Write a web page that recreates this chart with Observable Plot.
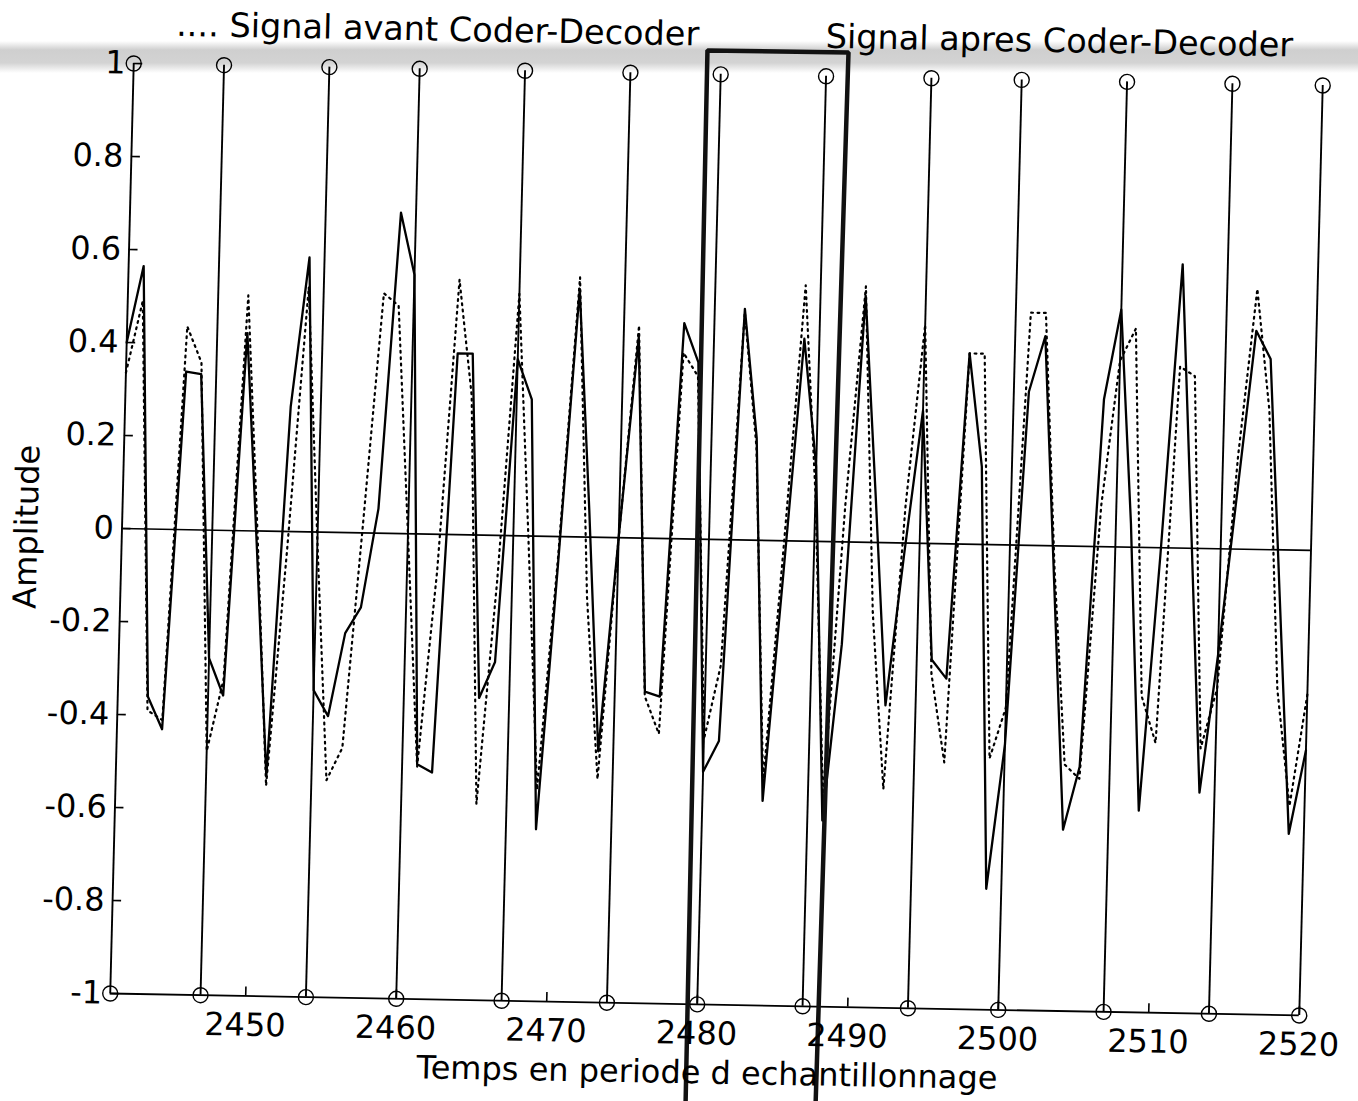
<!DOCTYPE html>
<html>
<head>
<meta charset="utf-8">
<script src="https://cdn.jsdelivr.net/npm/d3@7"></script>
<script src="https://cdn.jsdelivr.net/npm/@observablehq/plot@0.6"></script>
<style>
  html, body { margin: 0; padding: 0; background: #fff; }
  #wrap { position: relative; width: 1358px; height: 1101px; overflow: hidden; background: #fff; }
  #band { position: absolute; left: 0; top: 41px; width: 1358px; height: 32px;
    background: linear-gradient(to bottom, rgba(195,195,195,0) 0%, rgba(195,195,195,0.8) 28%, rgba(200,200,200,0.8) 68%, rgba(210,210,210,0) 100%); }
  #chart { position: absolute; left: 0; top: 0; transform-origin: 0 0;
    transform: matrix(1, 0.01847, -0.02527, 1, 13.34, -2.24); }
</style>
</head>
<body>
<div id="wrap"><div id="band"></div><div id="chart"></div></div>
<script>
// ---- data ----
const samples = [2441,2442,2443,2444,2445,2446,2447,2448,2449,2450,
  2451,2452,2453,2454,2455,2456,2457,2458,2459,2460,
  2461,2462,2463,2464,2465,2466,2467,2468,2469,2470,
  2471,2472,2473,2474,2475,2476,2477,2478,2479,2480,
  2481,2482,2483,2484,2485,2486,2487,2488,2489,2490,
  2491,2492,2493,2494,2495,2496,2497,2498,2499,2500,
  2501,2502,2503,2504,2505,2506,2507,2508,2509,2510,
  2511,2512,2513,2514,2515,2516,2517,2518,2519,2520];

// Signal apres Coder-Decoder (solid)
const apres = [0.40,0.565,-0.36,-0.43,0.34,0.335,-0.275,-0.355,0.425,-0.04,
  -0.527,0.268,0.59,-0.34,-0.395,-0.216,-0.16,0.053,0.69,0.557,
  -0.495,-0.512,0.39,0.39,-0.35,-0.272,0.38,0.294,-0.63,-0.07,
  0.533,0.06,-0.46,0.0,0.432,-0.33,-0.34,0.464,0.38,-0.5,
  -0.433,0.497,0.22,-0.56,-0.07,0.435,0.16,-0.6,-0.22,0.53,
  0.1,-0.35,-0.02,0.285,-0.25,-0.29,0.41,0.167,-0.74,-0.43,
  0.33,0.45,-0.08,-0.61,-0.474,0.317,0.51,0.05,-0.566,-0.02,
  0.61,0.05,-0.525,-0.23,0.12,0.47,0.41,-0.1,-0.61,-0.43];

// Signal avant Coder-Decoder (dotted)
const avant = [0.335,0.49,-0.39,-0.41,0.437,0.36,-0.475,-0.32,0.506,0.0,
  -0.547,-0.04,0.526,-0.02,-0.533,-0.463,0.02,0.516,0.49,0.0,
  -0.5,-0.08,0.548,0.3,-0.578,-0.1,0.52,0.0,-0.545,-0.05,
  0.558,-0.13,-0.52,0.0,0.457,-0.34,-0.42,0.4,0.35,-0.43,
  -0.27,0.49,0.2,-0.52,0.0,0.55,0.1,-0.55,0.08,0.55,
  -0.15,-0.53,0.08,0.47,-0.28,-0.47,0.41,0.41,-0.46,-0.35,
  0.5,0.5,-0.05,-0.47,-0.5,0.09,0.4,0.47,-0.32,-0.42,
  0.39,0.37,-0.43,-0.3,0.2,0.56,0.3,-0.3,-0.55,-0.31];

// markers (vertical lines from -1 to 1 with circles)
const markers = [2441,2447,2454,2460,2467,2474,2480,2487,2494,2500,2507,2514,2520];
const markerLevels = [-1, 1];

// hand-drawn window around samples 2479..2488
const boxX = [2479.4, 2479.08, 2488.45, 2488.02];
const boxY = [-1.26, 1.051, 1.052, -1.26];

const xTicks = [2450,2460,2470,2480,2490,2500,2510,2520];
const yTicks = [-1,-0.8,-0.6,-0.4,-0.2,0,0.2,0.4,0.6,0.8,1];

const xLabel = "Temps en periode d echantillonnage";
const yLabel = "Amplitude";
const legendAvant = ".... Signal avant Coder-Decoder";
const legendApres = "Signal apres Coder-Decoder";

// ---- derived tables ----
const solid = samples.map((s, i) => ({x: s, y: apres[i]}));
const dotted = samples.map((s, i) => ({x: s, y: avant[i]}));
const ends = markers.flatMap(m => markerLevels.map(l => ({x: m, y: l})));
const box = boxX.map((x, i) => ({x, y: boxY[i]}));

// ---- layout ----
const W = 1358, H = 1101;
const mL = 121.5, mR = 47.5, mT = 63, mB = 108;
const frameW = W - mL - mR, frameH = H - mT - mB;
const tickLen = 9;

const chart = Plot.plot({
  width: W, height: H,
  marginLeft: mL, marginRight: mR, marginTop: mT, marginBottom: mB,
  x: {domain: [samples[0], samples[samples.length - 1]]},
  y: {domain: [-1, 1]},
  style: {fontFamily: "'DejaVu Sans', sans-serif", fontSize: "32px", color: "#000", background: "transparent", overflow: "visible"},
  marks: [
    Plot.ruleY([-1], {stroke: "#000", strokeWidth: 1.8}),
    Plot.ruleY([0], {stroke: "#000", strokeWidth: 1.7}),
    Plot.ruleX(xTicks, {stroke: "#000", strokeWidth: 1.6, insetTop: frameH - tickLen}),
    Plot.ruleY(yTicks, {stroke: "#000", strokeWidth: 1.6, insetRight: frameW - tickLen}),
    Plot.ruleX(markers, {y1: -1, y2: 1, stroke: "#000", strokeWidth: 1.9}),
    Plot.dot(ends, {x: "x", y: "y", r: 7.5, stroke: "#000", strokeWidth: 1.4, fill: "none"}),
    Plot.line(dotted, {x: "x", y: "y", stroke: "#000", strokeWidth: 2.2, strokeDasharray: "1.8,4.6"}),
    Plot.line(solid, {x: "x", y: "y", stroke: "#000", strokeWidth: 2.3}),
    Plot.line(box, {x: "x", y: "y", stroke: "#111", strokeWidth: 4.5, strokeLinejoin: "miter", clip: false}),
    Plot.axisX({ticks: xTicks, tickSize: 0, tickPadding: 17, label: null, tickFormat: d => String(d), fontSize: 32}),
    Plot.axisY({ticks: yTicks, tickSize: 0, tickPadding: 8, label: null, tickFormat: d => String(d), fontSize: 32}),
    Plot.text([xLabel], {text: d => d, frameAnchor: "bottom", dx: 4, dy: 79, lineAnchor: "bottom", textAnchor: "middle", fontSize: 32, fill: "#000"}),
    Plot.text([yLabel], {text: d => d, frameAnchor: "left", dx: -84.5, rotate: -90, lineAnchor: "bottom", textAnchor: "middle", fontSize: 32, fill: "#000"}),
    Plot.text([legendAvant], {text: d => d, frameAnchor: "top-left", dx: 41.5, dy: -28.5, lineAnchor: "bottom", textAnchor: "start", fontSize: 33.5, fill: "#000"}),
    Plot.text([legendApres], {text: d => d, frameAnchor: "top-left", dx: 691, dy: -28.5, lineAnchor: "bottom", textAnchor: "start", fontSize: 33.5, fill: "#000"})
  ]
});
document.getElementById("chart").appendChild(chart);
</script>
</body>
</html>
